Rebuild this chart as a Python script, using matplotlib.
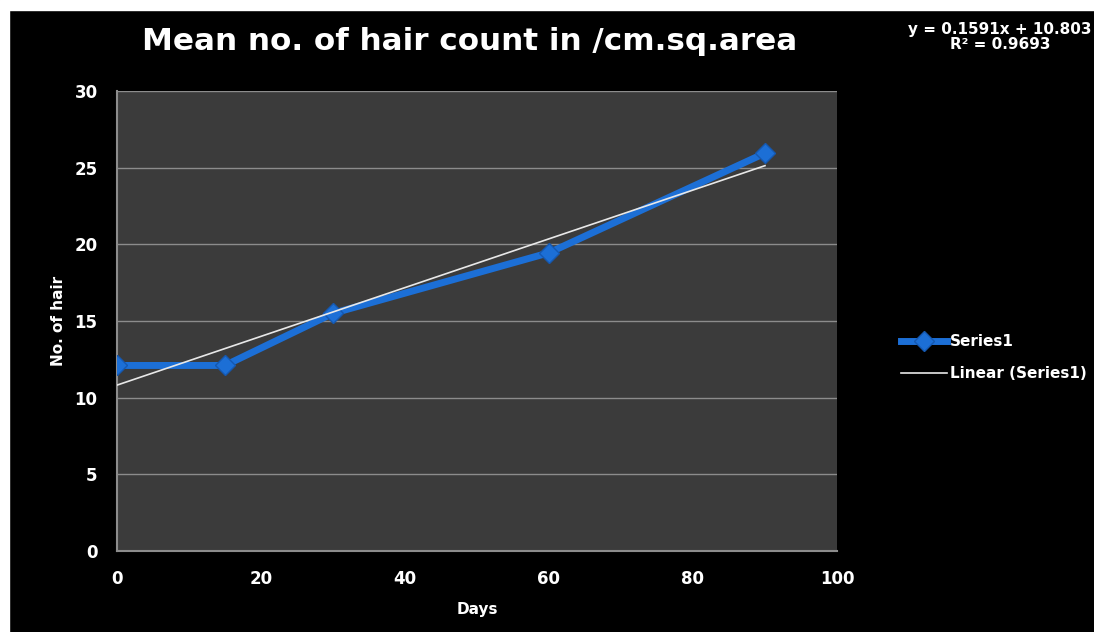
import numpy as np
import matplotlib.pyplot as plt
from matplotlib.patches import Rectangle

# data
days = [0, 15, 30, 60, 90]
hair = [12.1, 12.1, 15.5, 19.45, 25.95]
x_ticks = [0, 20, 40, 60, 80, 100]
y_ticks = [0, 5, 10, 15, 20, 25, 30]
eq_text = "y = 0.1591x + 10.803\nR² = 0.9693"

blue = '#1c6fd6'
font = ['DejaVu Sans Condensed', 'Liberation Sans Narrow', 'DejaVu Sans']

fig = plt.figure(figsize=(10.94, 6.32), dpi=100, facecolor='black')
ax = fig.add_axes([117 / 1094, 81 / 632, 720 / 1094, 460 / 632])
ax.set_facecolor('#3b3b3b')

# white strips at the top and left of the screenshot
fig.patches.append(Rectangle((0, 0), 9 / 1094, 1, transform=fig.transFigure,
                             color='white', zorder=-1))
fig.patches.append(Rectangle((0, 1 - 10 / 632), 1, 10 / 632,
                             transform=fig.transFigure, color='white', zorder=-1))

ax.plot(days, hair, color=blue, lw=5, marker='D', ms=10,
        markerfacecolor=blue, markeredgecolor='#1558b0', label='Series1', zorder=3)

# linear trend line
coef = np.polyfit(days, hair, 1)
xs = np.array([days[0], days[-1]])
ax.plot(xs, np.polyval(coef, xs), color='#e8e8e8', lw=1.2,
        label='Linear (Series1)', zorder=4)

ax.set_xlim(0, 100)
ax.set_ylim(0, 30)
ax.set_xticks(x_ticks)
ax.set_yticks(y_ticks)
ax.grid(axis='y', color='#8c8c8c', lw=1)
ax.set_axisbelow(True)
ax.tick_params(length=0, colors='white', labelsize=12, pad=14)
for lab in ax.get_xticklabels() + ax.get_yticklabels():
    lab.set_family(font)
    lab.set_fontweight('bold')
for s in ['top', 'right']:
    ax.spines[s].set_visible(False)
for s in ['left', 'bottom']:
    ax.spines[s].set_color('#8c8c8c')
    ax.spines[s].set_linewidth(1.5)

ax.set_xlabel('Days', color='white', fontsize=11, fontweight='bold',
              family=font, labelpad=10)
ax.set_ylabel('No. of hair', color='white', fontsize=11, fontweight='bold',
              family=font, labelpad=6)

fig.text(470 / 1094, 1 - 42 / 632, 'Mean no. of hair count in /cm.sq.area',
         color='white', fontsize=22.3, fontweight='bold', ha='center', va='center',
         family=['DejaVu Sans'])
fig.text(1000 / 1094, 1 - 37 / 632, eq_text, color='white', fontsize=11,
         fontweight='bold', ha='center', va='center', linespacing=1.05,
         family=['DejaVu Sans'])

leg = ax.legend(loc='center left', bbox_to_anchor=(1.07, 0.42), frameon=False,
                labelcolor='white', handlelength=3.0, handletextpad=0.2,
                labelspacing=1.1, prop={'family': font, 'weight': 'bold', 'size': 11})

fig.savefig('out.png', dpi=100, facecolor='black')
